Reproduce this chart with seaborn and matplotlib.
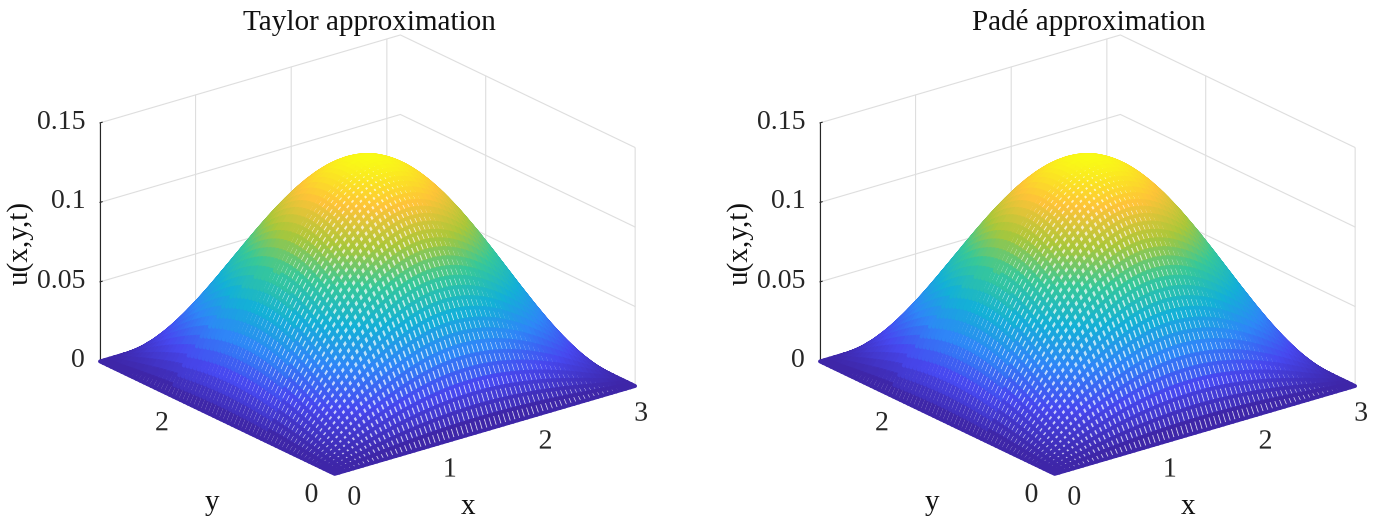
import numpy as np
import matplotlib
matplotlib.use("Agg")
import matplotlib.pyplot as plt
import matplotlib.patheffects as pe
import seaborn as sns

# surface heights, in units of 1e-4
# one quadrant only (x, y up to pi/2), the surface is mirrored around the peak
quadrant = np.array([
    [0] * 33,
    [0,3,6,10,13,16,19,22,25,28,31,34,37,39,42,44,47,49,51,53,55,57,58,60,61,62,63,64,65,65,66,66,66],
    [0,6,13,19,26,32,38,44,50,56,62,68,73,79,84,89,93,98,102,106,110,113,116,119,122,124,126,128,129,130,131,132,132],
    [0,10,19,29,38,48,57,66,76,84,93,101,110,118,125,133,140,146,153,158,164,169,174,178,182,186,189,191,194,195,196,197,197],
    [0,13,26,38,51,64,76,88,100,112,124,135,146,156,166,176,186,194,203,211,218,225,231,237,242,247,251,255,257,260,261,262,262],
    [0,16,32,48,64,79,95,110,125,140,154,168,182,195,207,219,231,242,253,262,272,280,288,295,302,308,313,317,321,323,325,326,327],
    [0,19,38,57,76,95,113,132,149,167,184,201,217,233,248,262,276,289,302,314,325,335,344,353,361,368,374,379,383,386,389,390,391],
    [0,22,44,66,88,110,132,153,173,194,214,233,252,270,287,304,320,336,350,364,377,389,400,410,419,427,434,440,444,448,451,453,453],
    [0,25,50,76,100,125,149,173,197,220,243,265,286,307,327,346,364,381,398,413,428,441,454,465,476,485,493,499,505,509,512,514,515],
    [0,28,56,84,112,140,167,194,220,246,271,296,320,343,365,386,407,426,445,462,478,493,507,520,531,541,550,558,564,569,572,574,575],
    [0,31,62,93,124,154,184,214,243,271,299,326,352,378,402,426,448,470,490,509,527,544,559,573,586,597,607,615,622,627,631,633,634],
    [0,34,68,101,135,168,201,233,265,296,326,355,384,412,439,464,489,512,535,555,575,593,610,625,639,651,662,671,678,684,688,691,692],
    [0,37,73,110,146,182,217,252,286,320,352,384,415,445,474,502,528,554,578,600,621,641,659,676,690,704,715,725,733,739,744,746,747],
    [0,39,79,118,156,195,233,270,307,343,378,412,445,477,508,538,567,594,619,644,666,687,707,724,740,754,767,777,786,793,797,800,801],
    [0,42,84,125,166,207,248,287,327,365,402,439,474,508,541,573,603,632,660,685,710,732,753,771,788,803,817,828,837,844,849,852,853],
    [0,44,89,133,176,219,262,304,346,386,426,464,502,538,573,607,639,669,698,726,751,775,797,817,835,850,864,876,886,894,899,902,903],
    [0,47,93,140,186,231,276,320,364,407,448,489,528,567,603,639,672,705,735,764,791,816,839,860,879,895,910,922,933,941,946,950,951],
    [0,49,98,146,194,242,289,336,381,426,470,512,554,594,632,669,705,738,770,800,829,855,879,901,921,938,954,967,977,986,992,995,997],
    [0,51,102,153,203,253,302,350,398,445,490,535,578,619,660,698,735,770,804,835,865,892,917,940,961,979,995,1008,1020,1028,1035,1038,1040],
    [0,53,106,158,211,262,314,364,413,462,509,555,600,644,685,726,764,800,835,868,898,927,953,977,998,1017,1034,1048,1060,1069,1075,1079,1080],
    [0,55,110,164,218,272,325,377,428,478,527,575,621,666,710,751,791,829,865,898,930,959,986,1011,1033,1053,1070,1085,1097,1106,1113,1117,1118],
    [0,57,113,169,225,280,335,389,441,493,544,593,641,687,732,775,816,855,892,927,959,989,1017,1043,1066,1086,1104,1119,1131,1141,1148,1152,1154],
    [0,58,116,174,231,288,344,400,454,507,559,610,659,707,753,797,839,879,917,953,986,1017,1046,1072,1096,1117,1135,1151,1163,1173,1180,1185,1186],
    [0,60,119,178,237,295,353,410,465,520,573,625,676,724,771,817,860,901,940,977,1011,1043,1072,1099,1123,1145,1163,1179,1193,1203,1210,1214,1216],
    [0,61,122,182,242,302,361,419,476,531,586,639,690,740,788,835,879,921,961,998,1033,1066,1096,1123,1148,1170,1189,1205,1219,1229,1237,1241,1243],
    [0,62,124,186,247,308,368,427,485,541,597,651,704,754,803,850,895,938,979,1017,1053,1086,1117,1145,1170,1192,1212,1228,1242,1253,1260,1265,1266],
    [0,63,126,189,251,313,374,434,493,550,607,662,715,767,817,864,910,954,995,1034,1070,1104,1135,1163,1189,1212,1232,1248,1262,1273,1281,1285,1287],
    [0,64,128,191,255,317,379,440,499,558,615,671,725,777,828,876,922,967,1008,1048,1085,1119,1151,1179,1205,1228,1248,1266,1280,1291,1298,1303,1305],
    [0,65,129,194,257,321,383,444,505,564,622,678,733,786,837,886,933,977,1020,1060,1097,1131,1163,1193,1219,1242,1262,1280,1294,1305,1313,1318,1319],
    [0,65,130,195,260,323,386,448,509,569,627,684,739,793,844,894,941,986,1028,1069,1106,1141,1173,1203,1229,1253,1273,1291,1305,1316,1324,1329,1331],
    [0,66,131,196,261,325,389,451,512,572,631,688,744,797,849,899,946,992,1035,1075,1113,1148,1180,1210,1237,1260,1281,1298,1313,1324,1332,1337,1339],
    [0,66,132,197,262,326,390,453,514,574,633,691,746,800,852,902,950,995,1038,1079,1117,1152,1185,1214,1241,1265,1285,1303,1318,1329,1337,1342,1343],
    [0,66,132,197,262,327,391,453,515,575,634,692,747,801,853,903,951,997,1040,1080,1118,1154,1186,1216,1243,1266,1287,1305,1319,1331,1339,1343,1345],
]) / 1e4

titles = ["Taylor approximation", "Padé approximation"]
x_ticks = [0, 1, 2, 3]
y_ticks = [0, 2]
z_ticks = [0, 0.05, 0.1, 0.15]
x_labels = ["0", "1", "2", "3"]
y_labels = ["0", "2"]
z_labels = ["0", "0.05", "0.1", "0.15"]

# parula, same as the matlab default
parula = sns.blend_palette(
    ["#3e26a8", "#4748f0", "#2e87f7", "#13b1d6", "#37c899", "#abc739", "#fec338", "#f9fb15"],
    as_cmap=True,
)

sns.set_style("white")
plt.rcParams["font.family"] = ["Liberation Serif", "DejaVu Serif"]

# mirror the quadrant into the whole surface
half = np.hstack([quadrant, quadrant[:, -2::-1]])
z = np.vstack([half, half[-2::-1]])
grid = np.linspace(0, np.pi, z.shape[0])
x, y = np.meshgrid(grid, grid)

W, H = 1378, 519
fig = plt.figure(figsize=(W / 100, H / 100), dpi=100)
colors = parula(z / z.max())
# the holes of the mesh: pale version of the line colour
holes = colors[:-1, :-1].reshape(-1, 4) * 0.3 + 0.7

for i, title in enumerate(titles):
    off = 720 * i
    # bigger than the figure height on purpose, the surface gets clipped to this box
    ax = fig.add_axes([(69.7 + off) / W, -33.3 / H, 580 / W, 580 / H],
                      projection="3d", proj_type="ortho")
    ax.set_box_aspect((381, 381, 257), zoom=1.0)
    ax.view_init(elev=22, azim=-128)
    ax.patch.set_alpha(0)

    surf = ax.plot_surface(x, y, z, rstride=1, cstride=1, facecolors=colors,
                           linewidth=2.7, antialiased=True, shade=False)
    surf.set_facecolor(holes)
    surf.set_joinstyle("round")

    ax.set_xlim(0, np.pi)
    ax.set_ylim(0, np.pi)
    ax.set_zlim(0, 0.15)
    ax.set_xticks(x_ticks)
    ax.set_yticks(y_ticks)
    ax.set_zticks(z_ticks)
    ax.tick_params(axis="both", labelsize=20, colors="#262626")
    ax.tick_params(axis="x", pad=-2)
    ax.tick_params(axis="y", pad=-2)
    ax.tick_params(axis="z", pad=-2)
    # 3d tick labels only have pad, so nudge the drawn text sideways (points)
    ax.set_xticklabels(x_labels, path_effects=[pe.Stroke(offset=(9.4, -1.4))])
    ax.set_yticklabels(y_labels, path_effects=[pe.Stroke(offset=(-10.8, 0))])
    ax.set_zticklabels(z_labels, ha="right", va="center")

    for axis in (ax.xaxis, ax.yaxis, ax.zaxis):
        axis.set_pane_color((1, 1, 1, 0))
        axis.pane.set_edgecolor((1, 1, 1, 0))
        axis.line.set_color("#262626")
        axis.line.set_linewidth(0.8)
        axis._axinfo["grid"].update(color="#dedede", linewidth=0.8)
        axis._axinfo["tick"].update(inward_factor=0.0, outward_factor=0.1, linewidth={True: 0.8, False: 0.5})

    fig.text((369 + off) / W, 1 - 23 / H, title, fontsize=21, ha="center", va="center", color="#111111")
    fig.text((468 + off) / W, 1 - 507 / H, "x", fontsize=21, ha="center", va="center", color="#111111")
    fig.text((212 + off) / W, 1 - 503 / H, "y", fontsize=21, ha="center", va="center", color="#111111")
    fig.text((20 + off) / W, 1 - 243 / H, "u(x,y,t)", fontsize=21, rotation=90, ha="center", va="center", color="#111111")

fig.savefig("out.png", dpi=100)
